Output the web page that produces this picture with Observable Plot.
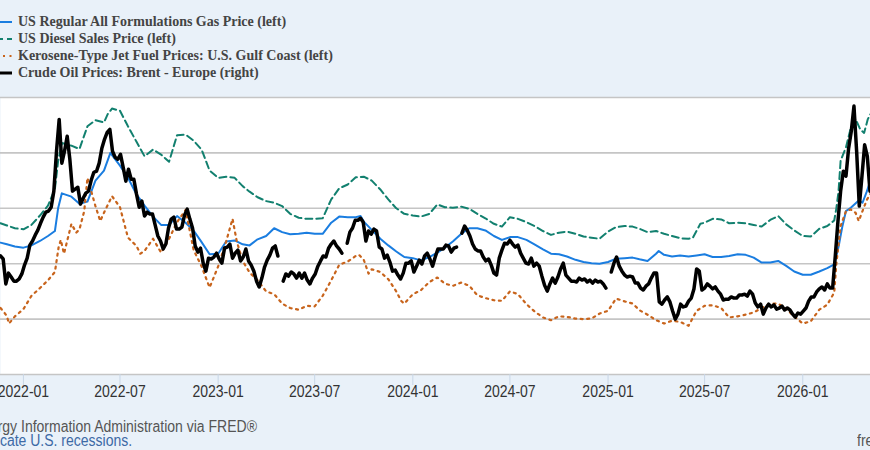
<!DOCTYPE html>
<html>
<head>
<meta charset="utf-8">
<script src="https://cdn.jsdelivr.net/npm/d3@7"></script>
<script src="https://cdn.jsdelivr.net/npm/@observablehq/plot@0.6"></script>
<style>
  html, body { margin: 0; padding: 0; }
  body {
    width: 870px; height: 450px; overflow: hidden; position: relative;
    background: #e9f1f9;
    font-family: "Liberation Sans", Arial, sans-serif;
  }
  #legend {
    position: absolute; left: 0; top: 14px;
    font-family: "Liberation Serif", "Times New Roman", serif;
    font-weight: bold; font-size: 14px; color: #444;
  }
  #legend .row { height: 16.8px; display: flex; align-items: center; white-space: nowrap; }
  #legend svg { width: 12px; height: 10px; flex: none; margin-right: 6px; overflow: hidden; }
  #chart { position: absolute; left: 0; top: 90px; }
  .foot {
    position: absolute; white-space: nowrap;
    font-family: "Liberation Sans", Arial, sans-serif;
    font-size: 16px; line-height: 13px;
  }
</style>
</head>
<body>
<div id="legend"></div>
<div id="chart"></div>
<div class="foot" id="source" style="right:613px; top:419.5px; color:#555; transform:scaleX(0.875); transform-origin:right center;">Source: U.S. Energy Information Administration via FRED®</div>
<div class="foot" id="shade" style="right:738px; top:434px; color:#3d6aa6; transform:scaleX(0.875); transform-origin:right center;">Shaded areas indicate U.S. recessions.</div>
<div class="foot" id="site" style="left:857px; top:434px; color:#555; transform:scaleX(0.875); transform-origin:left center;">fred.stlouisfed.org</div>
<script>
// Weekly retail prices, dollars per gallon (left axis)
const gasPrice = [
  ["2021-11-19",3.38],["2021-12-01",3.35],["2021-12-16",3.31],["2022-01-01",3.29],["2022-01-16",3.33],
  ["2022-02-01",3.41],["2022-02-16",3.50],["2022-03-01",3.59],["2022-03-07",4.00],["2022-03-14",4.27],
  ["2022-04-01",4.21],["2022-04-16",4.08],["2022-05-01",4.12],["2022-05-16",4.50],["2022-06-01",4.68],
  ["2022-06-13",5.00],["2022-07-01",4.77],["2022-07-16",4.55],["2022-08-01",4.25],["2022-08-16",4.05],
  ["2022-09-01",3.85],["2022-09-16",3.70],["2022-10-01",3.70],["2022-10-16",3.86],["2022-11-01",3.74],
  ["2022-11-16",3.60],["2022-12-01",3.39],["2022-12-16",3.17],["2023-01-01",3.18],["2023-01-16",3.40],
  ["2023-02-01",3.42],["2023-02-16",3.35],["2023-03-01",3.33],["2023-03-16",3.44],["2023-04-01",3.50],
  ["2023-04-16",3.64],["2023-05-01",3.57],["2023-05-16",3.53],["2023-06-01",3.54],["2023-06-16",3.56],
  ["2023-07-01",3.54],["2023-07-16",3.54],["2023-08-01",3.74],["2023-08-16",3.85],["2023-09-01",3.84],
  ["2023-09-16",3.84],["2023-09-25",3.86],["2023-10-01",3.76],["2023-10-16",3.61],["2023-11-01",3.45],
  ["2023-11-16",3.33],["2023-12-01",3.22],["2023-12-16",3.12],["2024-01-01",3.10],["2024-01-16",3.06],
  ["2024-02-01",3.12],["2024-02-16",3.20],["2024-03-01",3.29],["2024-03-16",3.40],["2024-04-01",3.54],
  ["2024-04-16",3.64],["2024-05-01",3.64],["2024-05-16",3.60],["2024-06-01",3.50],["2024-06-16",3.43],
  ["2024-07-01",3.48],["2024-07-16",3.48],["2024-08-01",3.43],["2024-08-16",3.35],["2024-09-01",3.26],
  ["2024-09-16",3.18],["2024-10-01",3.17],["2024-10-16",3.13],["2024-11-01",3.07],["2024-11-16",3.03],
  ["2024-12-01",3.01],["2024-12-16",3.00],["2025-01-01",3.03],["2025-01-16",3.09],["2025-02-01",3.10],
  ["2025-02-16",3.11],["2025-03-01",3.08],["2025-03-16",3.05],["2025-04-01",3.18],["2025-04-06",3.23],
  ["2025-04-16",3.16],["2025-05-01",3.13],["2025-05-16",3.15],["2025-06-01",3.13],["2025-06-16",3.15],
  ["2025-07-01",3.17],["2025-07-16",3.12],["2025-08-01",3.12],["2025-08-16",3.14],["2025-09-01",3.17],
  ["2025-09-16",3.16],["2025-10-01",3.11],["2025-10-16",3.02],["2025-11-01",3.02],["2025-11-16",3.05],
  ["2025-12-01",2.96],["2025-12-16",2.86],["2026-01-01",2.80],["2026-01-16",2.80],["2026-02-01",2.86],
  ["2026-02-16",2.92],["2026-03-01",2.99],["2026-03-09",3.30],["2026-03-16",3.66],["2026-03-23",3.95],
  ["2026-04-01",4.01],["2026-04-16",4.14],["2026-04-23",4.10],["2026-05-01",4.30],["2026-05-08",4.50]
];

const dieselPrice = [
  ["2021-11-19",3.73],["2021-12-01",3.69],["2021-12-16",3.64],["2022-01-01",3.62],["2022-01-16",3.70],
  ["2022-02-01",3.87],["2022-02-16",4.05],["2022-03-01",4.35],["2022-03-07",4.85],["2022-03-14",5.18],
  ["2022-04-01",5.13],["2022-04-16",5.07],["2022-05-01",5.48],["2022-05-16",5.59],["2022-06-01",5.55],
  ["2022-06-08",5.70],["2022-06-16",5.80],["2022-07-01",5.76],["2022-07-16",5.48],["2022-08-01",5.20],
  ["2022-08-16",4.94],["2022-09-01",5.06],["2022-09-16",4.97],["2022-10-01",4.84],["2022-10-16",5.32],
  ["2022-11-01",5.33],["2022-11-16",5.22],["2022-12-01",5.06],["2022-12-16",4.68],["2023-01-01",4.55],
  ["2023-01-16",4.57],["2023-02-01",4.55],["2023-02-16",4.40],["2023-03-01",4.30],["2023-03-16",4.20],
  ["2023-04-01",4.13],["2023-04-16",4.10],["2023-05-01",4.04],["2023-05-16",3.90],["2023-06-01",3.83],
  ["2023-06-16",3.81],["2023-07-01",3.81],["2023-07-16",3.82],["2023-08-01",4.16],["2023-08-16",4.36],
  ["2023-09-01",4.43],["2023-09-16",4.56],["2023-10-01",4.57],["2023-10-16",4.50],["2023-11-01",4.34],
  ["2023-11-16",4.16],["2023-12-01",4.00],["2023-12-16",3.90],["2024-01-01",3.87],["2024-01-16",3.85],
  ["2024-02-01",3.90],["2024-02-16",4.07],["2024-03-01",4.02],["2024-03-16",4.01],["2024-04-01",4.03],
  ["2024-04-16",3.99],["2024-05-01",3.90],["2024-05-16",3.82],["2024-06-01",3.72],["2024-06-16",3.67],
  ["2024-07-01",3.84],["2024-07-16",3.81],["2024-08-01",3.75],["2024-08-16",3.68],["2024-09-01",3.59],
  ["2024-09-16",3.52],["2024-10-01",3.56],["2024-10-16",3.58],["2024-11-01",3.54],["2024-11-16",3.49],
  ["2024-12-01",3.47],["2024-12-16",3.45],["2025-01-01",3.58],["2025-01-16",3.66],["2025-02-01",3.68],
  ["2025-02-16",3.67],["2025-03-01",3.63],["2025-03-16",3.57],["2025-04-01",3.59],["2025-04-16",3.54],
  ["2025-05-01",3.50],["2025-05-16",3.46],["2025-06-01",3.45],["2025-06-09",3.47],["2025-06-23",3.72],
  ["2025-07-01",3.74],["2025-07-16",3.81],["2025-08-01",3.80],["2025-08-16",3.73],["2025-09-01",3.74],
  ["2025-09-16",3.73],["2025-10-01",3.70],["2025-10-16",3.67],["2025-11-01",3.79],["2025-11-16",3.86],
  ["2025-12-01",3.71],["2025-12-16",3.60],["2026-01-01",3.50],["2026-01-16",3.49],["2026-02-01",3.63],
  ["2026-02-16",3.68],["2026-03-01",3.78],["2026-03-05",4.00],["2026-03-09",4.30],["2026-03-13",4.86],
  ["2026-03-23",5.10],["2026-04-01",5.45],["2026-04-10",5.61],["2026-04-19",5.42],["2026-04-26",5.36],
  ["2026-05-03",5.61],["2026-05-08",5.70]
];

const jetFuelPrice = [
  ["2021-11-19",2.20],["2021-11-26",2.12],["2021-12-01",2.05],["2021-12-05",1.92],["2021-12-16",2.05],
  ["2022-01-01",2.18],["2022-01-16",2.42],["2022-02-01",2.56],["2022-02-16",2.70],["2022-03-01",2.85],
  ["2022-03-08",3.30],["2022-03-12",3.43],["2022-03-18",3.18],["2022-04-01",3.72],["2022-04-10",3.56],
  ["2022-04-16",3.62],["2022-04-25",3.95],["2022-05-01",4.55],["2022-05-16",4.04],["2022-05-25",3.77],
  ["2022-06-01",3.92],["2022-06-16",4.22],["2022-07-01",4.02],["2022-07-16",3.47],["2022-08-01",3.32],
  ["2022-08-08",3.18],["2022-08-16",3.23],["2022-09-01",3.45],["2022-09-16",3.20],["2022-10-01",3.45],
  ["2022-10-16",3.75],["2022-11-01",3.97],["2022-11-16",3.25],["2022-12-01",2.95],["2022-12-16",2.57],
  ["2023-01-01",2.95],["2023-01-16",3.40],["2023-01-28",3.81],["2023-02-05",3.40],["2023-02-16",3.05],
  ["2023-03-01",2.84],["2023-03-16",2.70],["2023-04-01",2.50],["2023-04-16",2.45],["2023-05-01",2.28],
  ["2023-05-16",2.20],["2023-06-01",2.17],["2023-06-16",2.24],["2023-07-01",2.23],["2023-07-16",2.42],
  ["2023-08-01",2.70],["2023-08-16",2.98],["2023-09-01",3.04],["2023-09-16",3.14],["2023-09-22",3.16],
  ["2023-10-01",3.07],["2023-10-10",2.82],["2023-10-16",2.90],["2023-11-01",2.85],["2023-11-16",2.72],
  ["2023-12-01",2.50],["2023-12-10",2.33],["2023-12-16",2.28],["2024-01-01",2.45],["2024-01-16",2.52],
  ["2024-02-01",2.67],["2024-02-16",2.75],["2024-03-01",2.64],["2024-03-16",2.60],["2024-04-01",2.66],
  ["2024-04-16",2.60],["2024-05-01",2.43],["2024-05-16",2.38],["2024-06-01",2.34],["2024-06-16",2.33],
  ["2024-07-01",2.50],["2024-07-16",2.45],["2024-08-01",2.27],["2024-08-16",2.14],["2024-09-01",2.03],
  ["2024-09-16",1.98],["2024-10-01",2.05],["2024-10-16",2.04],["2024-11-01",2.01],["2024-11-16",2.00],
  ["2024-12-01",2.01],["2024-12-16",2.10],["2025-01-01",2.15],["2025-01-16",2.37],["2025-02-01",2.32],
  ["2025-02-16",2.28],["2025-03-01",2.16],["2025-03-16",2.08],["2025-04-01",1.98],["2025-04-16",1.92],
  ["2025-05-01",1.97],["2025-05-16",1.95],["2025-06-01",1.88],["2025-06-16",2.15],["2025-07-01",2.24],
  ["2025-07-16",2.25],["2025-08-01",2.20],["2025-08-16",2.03],["2025-09-01",2.05],["2025-09-16",2.08],
  ["2025-10-01",2.12],["2025-10-16",2.20],["2025-11-01",2.28],["2025-11-16",2.28],["2025-12-01",2.18],
  ["2025-12-16",2.05],["2026-01-01",1.92],["2026-01-16",1.96],["2026-02-01",2.17],["2026-02-16",2.26],
  ["2026-03-01",2.48],["2026-03-05",3.00],["2026-03-13",3.68],["2026-03-23",3.95],["2026-04-01",3.98],
  ["2026-04-10",3.92],["2026-04-16",3.77],["2026-04-23",3.95],["2026-05-01",4.15],["2026-05-08",4.26]
];

// Brent spot, dollars per barrel (right axis), one reading every 5 days; null = no quote
const brentFirstDay = "2021-11-19";
const brentStepDays = 5;
const brentPrice = [
  82.8,81.7,72.7,76.6,75.2,73.7,73.7,74.5,76.3,79.5,
  82.0,86.7,88.2,90.3,92.1,94.6,96.8,98.6,99.0,100.4,
  106.2,120.6,132.1,116.3,120.6,126.0,117.7,106.2,106.9,107.6,
  101.5,103.6,105.5,106.2,110.1,113.0,113.4,116.3,121.7,124.9,
  127.4,128.5,120.6,118.4,117.7,119.5,114.8,109.8,114.1,110.5,
  110.5,105.1,100.4,102.6,97.2,98.6,97.9,97.9,93.9,90.0,
  88.2,85.3,87.1,92.9,96.1,96.8,92.5,92.5,93.2,97.5,
  99.7,96.1,92.9,86.4,84.2,85.6,80.2,77.3,82.0,81.7,
  82.4,83.8,81.7,80.2,85.6,86.0,87.1,82.0,83.8,84.9,
  81.0,82.4,85.3,81.0,79.5,77.3,73.7,71.6,74.8,78.8,
  81.3,83.1,85.6,86.4,82.8,null,73.7,76.3,75.5,77.0,
  76.3,74.8,76.6,74.8,76.6,74.1,72.7,74.8,76.3,79.1,
  81.0,82.8,82.4,85.6,87.1,88.2,86.4,85.3,83.8,null,
  87.4,91.4,92.9,95.7,95.7,96.4,95.0,88.2,91.8,90.7,
  92.5,91.8,86.0,85.3,82.0,83.1,80.6,77.3,77.7,75.9,
  74.5,76.6,80.2,80.2,81.0,77.0,79.1,81.3,79.9,82.8,
  83.8,81.7,79.1,82.4,85.3,85.3,85.3,86.7,86.4,84.2,
  85.6,86.0,null,91.0,93.6,92.1,90.0,87.1,85.3,84.6,
  84.6,82.4,81.0,81.7,79.5,76.6,75.9,82.0,84.9,87.4,
  87.1,88.5,87.1,86.0,86.7,83.8,82.0,80.2,79.9,82.0,
  79.1,80.2,79.1,75.5,72.2,70.1,72.7,74.8,73.0,75.2,
  78.1,80.2,75.9,74.8,73.7,73.7,73.4,74.8,74.1,74.5,
  73.4,74.1,73.0,74.1,73.4,73.7,72.7,71.2,null,77.0,
  80.2,82.4,79.1,77.3,75.9,75.2,75.5,75.2,73.0,73.0,
  71.2,70.5,71.9,72.7,74.8,76.6,76.6,66.2,65.4,66.9,
  68.0,66.2,62.9,60.0,61.8,65.4,64.4,64.7,66.5,67.6,
  70.9,78.1,77.3,70.5,71.2,72.7,71.9,70.9,71.6,70.1,
  69.0,66.9,67.2,67.2,68.0,67.6,67.6,68.7,68.7,69.0,
  68.3,70.1,69.0,65.8,64.4,65.4,61.8,64.0,65.4,64.4,
  65.1,63.6,64.0,64.7,63.3,64.0,63.3,61.8,60.7,62.2,
  61.8,62.9,64.0,66.5,68.0,68.0,69.8,70.9,71.6,70.5,
  72.7,71.2,71.2,82.8,95.4,106.2,113.4,111.6,121.7,127.8,
  136.9,120.6,100.8,111.6,122.9,118.8,106.2
];

// Axis settings
const xStart = "2021-11-19", xEnd = "2026-05-08";
const leftGrid = [1, 2, 3, 4, 5, 6];      // $/gal
const rightRange = [40, 140];            // $/bbl, same pixel span as leftGrid
const tickLabels = ["2022-01","2022-07","2023-01","2023-07","2024-01","2024-07","2025-01","2025-07","2026-01"];

const series = [
  {name: "US Regular All Formulations Gas Price (left)", color: "#1a7de0", width: 2, dash: null},
  {name: "US Diesel Sales Price (left)", color: "#12806f", width: 2, dash: "7,4"},
  {name: "Kerosene-Type Jet Fuel Prices: U.S. Gulf Coast (left)", color: "#c8641c", width: 2.2, dash: "2,4.5"},
  {name: "Crude Oil Prices: Brent - Europe (right)", color: "#000000", width: 3.5, dash: null}
];

const parseDay = d3.utcParse("%Y-%m-%d");
const parseMonth = d3.utcParse("%Y-%m");
const rows = pairs => pairs.map(([d, v]) => ({date: parseDay(d), value: v}));
// Brent shares the left scale: map $/bbl onto $/gal grid positions
const toLeft = p => leftGrid[0] + (p - rightRange[0]) * (leftGrid[leftGrid.length - 1] - leftGrid[0]) / (rightRange[1] - rightRange[0]);
const brentRows = brentPrice.map((p, i) => ({
  date: d3.utcDay.offset(parseDay(brentFirstDay), i * brentStepDays),
  value: p == null ? NaN : toLeft(p)
}));

// Legend
const legend = d3.select("#legend");
series.forEach(s => {
  const row = legend.append("div").attr("class", "row");
  const sw = row.append("svg").attr("viewBox", "0 0 12 10");
  sw.append("line").attr("x1", s.dash === "7,4" ? -4 : -10).attr("x2", 12).attr("y1", 5).attr("y2", 5)
    .attr("stroke", s.color).attr("stroke-width", Math.min(s.width, 3))
    .attr("stroke-dasharray", s.dash);
  row.append("span").text(s.name);
});

const lineOpts = s => ({x: "date", y: "value", stroke: s.color, strokeWidth: s.width,
  strokeDasharray: s.dash ?? undefined, strokeLinejoin: "round", clip: true});

const chart = Plot.plot({
  width: 870, height: 310,
  marginTop: 7, marginBottom: 26, marginLeft: 0, marginRight: 0,
  x: {type: "utc", domain: [parseDay(xStart), parseDay(xEnd)]},
  y: {domain: [leftGrid[0], leftGrid[leftGrid.length - 1]], axis: null},
  style: {background: "transparent", overflow: "visible",
          fontFamily: '"Liberation Sans", Arial, sans-serif',
          fontSize: "16px", color: "#333"},
  marks: [
    Plot.frame({fill: "white", stroke: null}),
    Plot.ruleY(leftGrid, {stroke: "#c5c5c5", strokeWidth: 1.6}),
    Plot.axisX(tickLabels.map(parseMonth), {tickFormat: d3.utcFormat("%Y-%m"), tickSize: 11,
      tickPadding: 0, stroke: "#c8d6e6", fill: "#333", label: null}),
    Plot.line(rows(gasPrice), lineOpts(series[0])),
    Plot.line(rows(dieselPrice), lineOpts(series[1])),
    Plot.line(rows(jetFuelPrice), lineOpts(series[2])),
    Plot.line(brentRows, lineOpts(series[3]))
  ]
});
document.getElementById("chart").append(chart);

// Narrow the tick labels horizontally (positions untouched)
d3.select(chart).selectAll('[aria-label="x-axis tick label"] text').each(function() {
  const w = this.getComputedTextLength();
  this.setAttribute("textLength", (w * 0.875).toFixed(1));
  this.setAttribute("lengthAdjust", "spacingAndGlyphs");
});
</script>
</body>
</html>
